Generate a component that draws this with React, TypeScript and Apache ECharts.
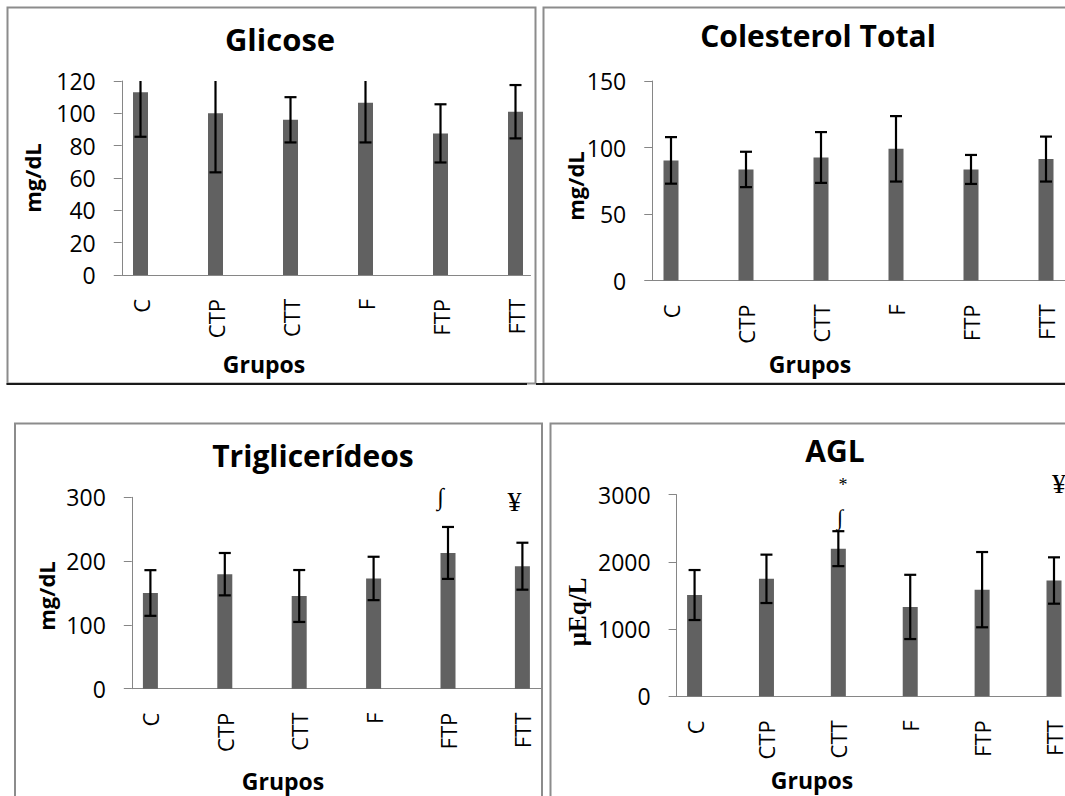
import React, { useEffect, useRef } from "react";
import * as echarts from "echarts";

const categories = ["C", "CTP", "CTT", "F", "FTP", "FTT"];
const categoryPositions = [0, 1, 2, 3, 4, 5];

const glicoseMean = [113, 100, 96, 106.6, 87.6, 101];
const glicoseSD = [27.5, 36.5, 14, 24.6, 18, 16.5];

const colesterolMean = [90.3, 83.5, 92.5, 99, 83.5, 91.3];
const colesterolSD = [17.5, 13.3, 19.1, 24.6, 10.9, 16.9];

const trigMean = [150, 179.5, 145.3, 172.8, 212.8, 192];
const trigSD = [35.8, 33.2, 40.7, 34, 40.7, 36.8];

const aglMean = [1507, 1748, 2197, 1330, 1587, 1723];
const aglSD = [372, 360, 260, 478, 560, 345];

const titles = ["Glicose", "Colesterol Total", "Triglicerídeos", "AGL"];
const yNames = ["mg/dL", "mg/dL", "mg/dL", "µEq/L"];
const xName = "Grupos";

const SANS = '"Open Sans", "Noto Sans", sans-serif';
const SERIF = '"Liberation Serif", "DejaVu Serif", serif';
const BAR = "#616161";
const AXIS = "#868686";
const BORDER = "#8c8c8c";

const panels = [
  { mean: glicoseMean, sd: glicoseSD, yMax: 120, yInt: 20, xMin: -0.25, xMax: 5.2,
    grid: { left: 121.75, top: 81, width: 408.75, height: 194 } },
  { mean: colesterolMean, sd: colesterolSD, yMax: 150, yInt: 50, xMin: -0.25, xMax: 5.25,
    grid: { left: 652.25, top: 81, width: 412.5, height: 199.5 } },
  { mean: trigMean, sd: trigSD, yMax: 300, yInt: 100, xMin: -0.25, xMax: 5.25,
    grid: { left: 131.8, top: 497.3, width: 409.2, height: 191.4 } },
  { mean: aglMean, sd: aglSD, yMax: 3000, yInt: 1000, xMin: -0.25, xMax: 5.1,
    grid: { left: 676.6, top: 494.7, width: 387.9, height: 201.6 } },
];

const errRender = (params: any, api: any) => {
  const i = api.value(0);
  const m = api.value(1);
  const s = api.value(2);
  const cs = params.coordSys;
  const top = api.coord([i, m + s]);
  const bot = api.coord([i, m - s]);
  const x = top[0];
  const clipped = top[1] < cs.y;
  const yTop = clipped ? cs.y : top[1];
  const half = 6;
  const st = { stroke: "#000", lineWidth: 2.2 };
  const children: any[] = [
    { type: "line", shape: { x1: x, y1: yTop, x2: x, y2: bot[1] }, style: st },
    { type: "line", shape: { x1: x - half, y1: bot[1], x2: x + half, y2: bot[1] }, style: st },
  ];
  if (!clipped) {
    children.push({ type: "line", shape: { x1: x - half, y1: top[1], x2: x + half, y2: top[1] }, style: st });
  }
  return { type: "group", children };
};

const txt = (text: string, x: number, y: number, font: string, rotation = 0) => ({
  type: "text",
  x,
  y,
  rotation,
  silent: true,
  style: { text, fill: "#000", font, align: "center", verticalAlign: "middle" },
});

const line = (x1: number, y1: number, x2: number, y2: number, stroke: string, lw: number) => ({
  type: "line",
  silent: true,
  shape: { x1, y1, x2, y2 },
  style: { stroke, lineWidth: lw },
});

export default function App() {
  const ref = useRef<HTMLDivElement>(null);

  useEffect(() => {
    document.body.style.margin = "0";
    if (!ref.current) return;
    const chart = echarts.init(ref.current, null, { renderer: "svg", width: 1065, height: 796 });

    const grids = panels.map((p) => ({ ...p.grid, containLabel: false }));
    const xAxes = panels.map((p, k) => ({
      type: "value",
      gridIndex: k,
      min: p.xMin,
      max: p.xMax,
      splitLine: { show: false },
      axisTick: { show: false },
      axisLine: { show: true, onZero: false, lineStyle: { color: AXIS, width: 1 } },
      axisLabel: {
        customValues: categoryPositions,
        formatter: (v: number) => categories[Math.round(v)],
        rotate: 90,
        margin: 24,
        color: "#000",
        fontFamily: SANS,
        fontSize: 22,
      },
    }));
    const yAxes = panels.map((p, k) => ({
      type: "value",
      gridIndex: k,
      min: 0,
      max: p.yMax,
      interval: p.yInt,
      splitLine: { show: false },
      axisLine: { show: true, onZero: false, lineStyle: { color: AXIS, width: 1 } },
      axisTick: { show: true, inside: false, length: 8, lineStyle: { color: AXIS, width: 1 } },
      axisLabel: {
        margin: 26,
        color: "#000",
        fontFamily: SANS,
        fontSize: 23,
        formatter: (v: number) => String(v),
      },
    }));

    const series: any[] = [];
    panels.forEach((p, k) => {
      series.push({
        type: "bar",
        xAxisIndex: k,
        yAxisIndex: k,
        barWidth: 15,
        itemStyle: { color: BAR },
        data: categoryPositions.map((c, i) => [c, p.mean[i]]),
      });
      series.push({
        type: "custom",
        xAxisIndex: k,
        yAxisIndex: k,
        renderItem: errRender,
        z: 5,
        data: categoryPositions.map((c, i) => [c, p.mean[i], p.sd[i]]),
      });
    });

    const graphic: any[] = [
      // panel borders
      { type: "rect", silent: true, shape: { x: 7.5, y: 7.5, width: 528, height: 376 }, style: { fill: "none", stroke: BORDER, lineWidth: 2 } },
      { type: "rect", silent: true, shape: { x: 543.5, y: 7.5, width: 540, height: 376 }, style: { fill: "none", stroke: BORDER, lineWidth: 2 } },
      { type: "rect", silent: true, shape: { x: 15, y: 423.5, width: 527, height: 400 }, style: { fill: "none", stroke: BORDER, lineWidth: 2 } },
      { type: "rect", silent: true, shape: { x: 550.5, y: 423.5, width: 540, height: 400 }, style: { fill: "none", stroke: BORDER, lineWidth: 2 } },
      line(6.5, 384, 527, 384, "#1a1a1a", 2),
      line(536, 384, 1065, 384, "#1a1a1a", 2),
      // titles
      txt(titles[0], 280, 39, `bold 31px ${SANS}`),
      txt(titles[1], 818, 35, `bold 30px ${SANS}`),
      txt(titles[2], 313, 455, `bold 30px ${SANS}`),
      txt(titles[3], 835, 450, `bold 30px ${SANS}`),
      // y names
      txt(yNames[0], 32, 178, `bold 22px ${SANS}`, Math.PI / 2),
      txt(yNames[1], 575, 186, `bold 22px ${SANS}`, Math.PI / 2),
      txt(yNames[2], 46, 596, `bold 22px ${SANS}`, Math.PI / 2),
      txt(yNames[3], 577, 612, `bold 25px ${SERIF}`, Math.PI / 2),
      // x names
      txt(xName, 264, 364, `bold 23px ${SANS}`),
      txt(xName, 810, 364, `bold 23px ${SANS}`),
      txt(xName, 283, 781, `bold 23px ${SANS}`),
      txt(xName, 812, 780, `bold 23px ${SANS}`),
      // significance marks
      txt("∫", 440.5, 497, `24px ${SERIF}`),
      txt("¥", 514.5, 501, `28px ${SERIF}`),
      txt("*", 843, 485, `18px ${SERIF}`),
      txt("∫", 840, 517, `22px ${SERIF}`),
      txt("¥", 1059, 483, `28px ${SERIF}`),
    ];

    chart.setOption({
      animation: false,
      backgroundColor: "#ffffff",
      grid: grids,
      xAxis: xAxes,
      yAxis: yAxes,
      series,
      graphic,
    });

    return () => chart.dispose();
  }, []);

  return <div ref={ref} style={{ width: 1065, height: 796 }} />;
}
